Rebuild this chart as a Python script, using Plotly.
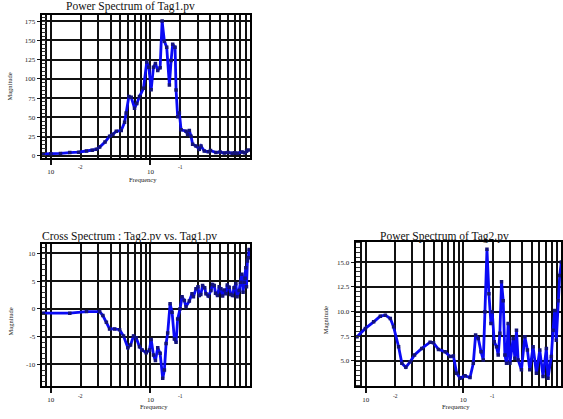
import math
import plotly.graph_objects as go

# ---- Power Spectrum of Tag1.pv ----
tag1_freq = [0.00838, 0.0100, 0.0125, 0.0155, 0.0190, 0.0228, 0.0260, 0.0286, 0.0309, 0.0350,
             0.0389, 0.0420, 0.0454, 0.0509, 0.0550, 0.0571, 0.0607, 0.0641, 0.0692, 0.0730,
             0.0776, 0.0851, 0.0918, 0.0962, 0.1016, 0.1072, 0.1122, 0.1183, 0.1250, 0.1309,
             0.1380, 0.1456, 0.1549, 0.1611, 0.1671, 0.1766, 0.1807, 0.1875, 0.1950, 0.2028,
             0.2275, 0.2360, 0.2455, 0.2553, 0.2649, 0.2864, 0.3090, 0.3214, 0.3467, 0.380,
             0.400, 0.4539, 0.500, 0.550, 0.600, 0.6607, 0.700, 0.750, 0.8318, 0.880,
             0.920, 0.9616]
tag1_mag = [2.6, 2.8, 3.2, 4.4, 4.8, 6.4, 7.5, 8.6, 11.5, 18,
            25.6, 28, 32, 33, 43.6, 55.6, 77, 76, 62, 68,
            77, 87.7, 122, 115, 86, 115, 120, 111, 114.6, 175,
            148.7, 141, 92, 124, 145, 141, 85.5, 51, 55.6, 34,
            32, 27.8, 33, 25.6, 15, 12.8, 8.6, 12.8, 6.4, 5.5,
            7.0, 4.4, 5.2, 3.8, 4.6, 3.5, 4.2, 3.6, 5.1, 4.0,
            6.0, 7.7]

# ---- Cross Spectrum : Tag2.pv vs. Tag1.pv ----
cross_freq = [0.00838, 0.0155, 0.0228, 0.0309, 0.0333, 0.0361, 0.0389, 0.0437, 0.0490, 0.0537,
              0.0593, 0.0631, 0.0676, 0.0719, 0.0776, 0.0826, 0.0906, 0.0977, 0.1016, 0.1072,
              0.1122, 0.1183, 0.1250, 0.1327, 0.1380, 0.1435, 0.1489, 0.1574, 0.1648, 0.1738,
              0.1807, 0.1875, 0.1982, 0.2075, 0.2188, 0.2275, 0.2455, 0.2612, 0.270, 0.2864,
              0.300, 0.3090, 0.320, 0.3334, 0.350, 0.3606, 0.380, 0.4046, 0.420, 0.4365,
              0.450, 0.4710, 0.490, 0.5093, 0.530, 0.550, 0.5715, 0.590, 0.6166, 0.640,
              0.6653, 0.690, 0.7194, 0.740, 0.7762, 0.800, 0.8260, 0.850, 0.8710, 0.890,
              0.9057, 0.920, 0.9397, 0.960, 0.9772]
cross_mag = [-0.77, -0.77, -0.48, -0.48, -1.2, -2.4, -3.6, -3.6, -3.75, -4.9,
             -7.0, -6.5, -4.9, -5.2, -6.8, -7.4, -7.9, -7.4, -5.5, -8.3,
             -9.3, -7.0, -8.0, -12.5, -11.0, -6.25, -4.35, 0.9, -0.6, -5.4,
             -6.0, -1.8, 0.0, 2.2, 1.5, 0.4, 1.4, 2.7, 2.2, 3.6,
             4.0, 2.4, 2.6, 4.2, 3.8, 2.7, 2.3, 3.3, 4.4, 4.2,
             2.8, 2.4, 4.0, 3.6, 2.3, 3.4, 2.7, 4.3, 3.9, 2.6,
             2.4, 3.8, 4.5, 2.2, 3.3, 4.8, 6.25, 3.0, 4.8, 5.5,
             7.4, 4.0, 8.6, 9.2, 10.7]

# ---- Power Spectrum of Tag2.pv ----
tag2_freq = [0.00815, 0.00993, 0.01207, 0.01413, 0.01589, 0.01786, 0.01931, 0.02172, 0.02346, 0.02577,
             0.02858, 0.03162, 0.03754, 0.04571, 0.04943, 0.05559, 0.0650, 0.0731, 0.0791, 0.0855,
             0.0925, 0.1040, 0.1170, 0.1265, 0.1335, 0.1422, 0.1517, 0.1600, 0.1664, 0.1745,
             0.1828, 0.1917, 0.1977, 0.2070, 0.2187, 0.2275, 0.2366, 0.2460, 0.2559, 0.2664,
             0.2767, 0.2878, 0.2997, 0.3236, 0.3371, 0.3500, 0.3640, 0.3935, 0.4266, 0.4529,
             0.4793, 0.518, 0.560, 0.606, 0.655, 0.708, 0.736, 0.796, 0.828, 0.862,
             0.895, 0.931, 0.970, 1.007]
tag2_mag = [7.45, 8.29, 8.96, 9.53, 9.63, 9.29, 8.45, 6.44, 4.77, 4.36,
            4.93, 5.6, 6.27, 6.9, 6.84, 6.17, 5.94, 5.44, 5.5, 3.76,
            3.26, 3.49, 3.32, 4.77, 7.62, 7.28, 5.94, 5.1, 9.97, 16.3,
            11.8, 8.8, 9.97, 6.95, 6.44, 5.6, 7.8, 13.0, 11.1, 5.6,
            4.77, 8.8, 4.77, 7.28, 5.27, 8.1, 5.1, 4.1, 7.45, 6.1,
            4.1, 6.44, 3.76, 6.1, 3.43, 6.27, 3.26, 5.44, 8.1, 10.1,
            7.1, 11.1, 13.65, 15.0]

# axis tick values
decades = [0.01, 0.1]
decade_text = ["10", "10"]
decade_exp = ["-2", "-1"]
minor_grid = [m * d for d in [0.001, 0.01, 0.1] for m in range(2, 10)] + [1.0]

tag1_yticks = [0, 25, 50, 75, 100, 125, 150, 175]
cross_yticks = [-10, -5, 0, 5, 10]
tag2_yticks = [5.0, 7.5, 10.0, 12.5, 15.0]
tag2_ytext = ["5.0", "7.5", "10.0", "12.5", "15.0"]

FONT = "Liberation Serif"
W, H = 563, 419
LINE = "#0a0af5"
MARK = "#14147a"
GRID = "#111111"


def px_x(p):
    return p / W


def px_y(p):
    return 1 - p / H


fig = go.Figure()
series = [(tag1_freq, tag1_mag, "x", "y"),
          (cross_freq, cross_mag, "x2", "y2"),
          (tag2_freq, tag2_mag, "x3", "y3")]
for fx, fy, xa, ya in series:
    fig.add_trace(go.Scatter(
        x=fx, y=fy, xaxis=xa, yaxis=ya, mode="lines+markers",
        line=dict(color=LINE, width=2.8),
        marker=dict(symbol="square", size=3.5, color=MARK),
        showlegend=False, hoverinfo="skip"))


def xaxis(domain, rng):
    return dict(type="log", domain=domain, range=rng,
                tickvals=decades, ticktext=decade_text,
                ticks="outside", ticklen=5, tickcolor=GRID, tickwidth=1.5,
                tickfont=dict(family=FONT, size=7, color="#222"),
                showgrid=True, gridcolor=GRID, gridwidth=1.8,
                minor=dict(tickvals=minor_grid, showgrid=True, gridcolor=GRID,
                           gridwidth=1.8, ticks=""),
                showline=True, linecolor="#000", linewidth=2.2, mirror=True,
                zeroline=False)


def yaxis(domain, rng, vals, text, minor_step, anchor):
    return dict(domain=domain, range=rng, anchor=anchor,
                tickvals=vals, ticktext=text,
                ticks="outside", ticklen=3, tickcolor=GRID, tickwidth=1,
                tickfont=dict(family=FONT, size=7, color="#222"),
                showgrid=True, gridcolor=GRID, gridwidth=1.8,
                minor=dict(dtick=minor_step, ticks="inside", ticklen=4.5,
                           tickcolor="#333", tickwidth=1.2, showgrid=False),
                showline=True, linecolor="#000", linewidth=2.2, mirror=True,
                zeroline=False)


left_dom = [px_x(42), px_x(251)]
right_dom = [px_x(357), 1.0]
top_dom = [px_y(159), px_y(15)]
bot_left_dom = [px_y(388), px_y(245)]
bot_right_dom = [px_y(388), px_y(243)]

fig.update_layout(
    width=W, height=H, autosize=False,
    margin=dict(l=0, r=0, t=0, b=0, pad=0),
    paper_bgcolor="white", plot_bgcolor="white",
    xaxis=dict(xaxis(left_dom, [-2.09, 0.0]), anchor="y"),
    yaxis=yaxis(top_dom, [-3, 183], tag1_yticks, [str(v) for v in tag1_yticks], 5, "x"),
    xaxis2=dict(xaxis(left_dom, [-2.09, 0.0]), anchor="y2"),
    yaxis2=yaxis(bot_left_dom, [-13.9, 11.7], cross_yticks, [str(v) for v in cross_yticks], 1, "x2"),
    xaxis3=dict(xaxis(right_dom, [-2.102, 0.0]), anchor="y3"),
    yaxis3=yaxis(bot_right_dom, [2.45, 17.05], tag2_yticks, tag2_ytext, 0.5, "x3"),
)

ann = []
# titles
titles = [("Power Spectrum of Tag1.pv", 131, 6.5),
          ("Cross Spectrum : Tag2.pv vs. Tag1.pv", 130, 238),
          ("Power Spectrum of Tag2.pv", 446, 238)]
for t, x, y in titles:
    ann.append(dict(text=t, x=px_x(x), y=px_y(y), xref="paper", yref="paper",
                    showarrow=False, xanchor="center", yanchor="middle",
                    font=dict(family=FONT, size=11.5, color="#111")))

# axis titles
for x, y in [(10, 87), (10, 323), (327, 322)]:
    ann.append(dict(text="Magnitude", x=px_x(x), y=px_y(y), xref="paper", yref="paper",
                    showarrow=False, textangle=-90, xanchor="center", yanchor="middle",
                    font=dict(family=FONT, size=6.5, color="#222")))
for x, y in [(144, 180), (155, 408), (458, 408)]:
    ann.append(dict(text="Frequency", x=px_x(x), y=px_y(y), xref="paper", yref="paper",
                    showarrow=False, xanchor="center", yanchor="middle",
                    font=dict(family=FONT, size=6.5, color="#222")))

# decade exponents (log axes take annotation x in log10 units)
for xa, yrow in [("x", 168), ("x2", 398), ("x3", 398)]:
    for d, e in zip(decades, decade_exp):
        ann.append(dict(text=e, x=math.log10(d * 2), y=px_y(yrow), xref=xa, yref="paper",
                        showarrow=False, xanchor="center", yanchor="middle",
                        font=dict(family=FONT, size=5.5, color="#222")))

fig.update_layout(annotations=ann)

fig.write_html("out.html")
